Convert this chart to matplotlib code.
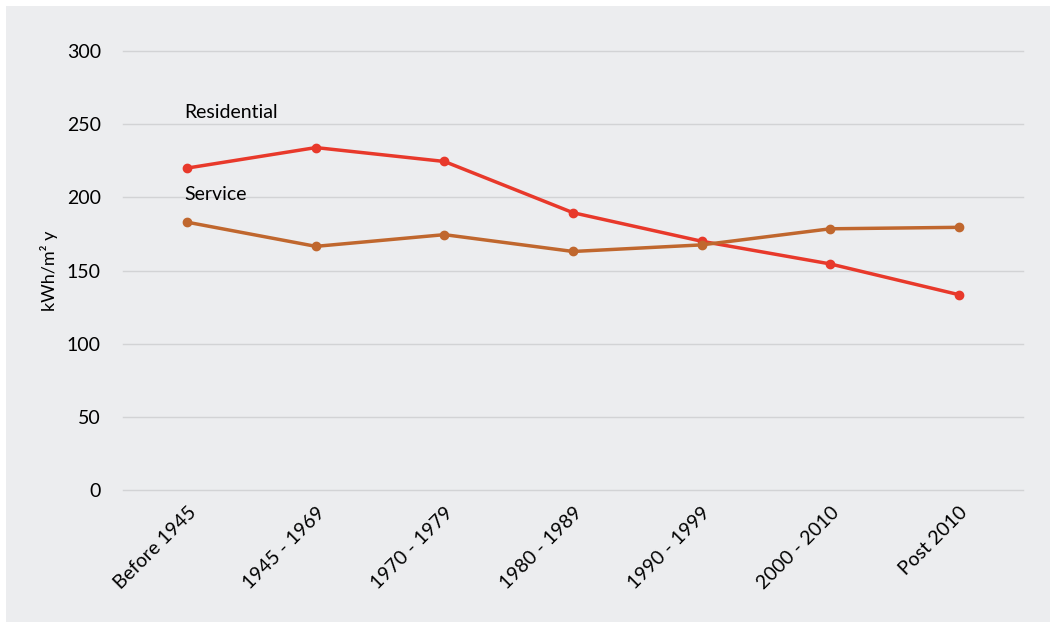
import matplotlib.pyplot as plt
from matplotlib.patches import Rectangle

periods = ['Before 1945', '1945 - 1969', '1970 - 1979', '1980 - 1989',
           '1990 - 1999', '2000 - 2010', 'Post 2010']
residential = [220, 234, 224.5, 189.5, 170, 154.5, 133.5]
service = [183, 166.5, 174.5, 163, 167.5, 178.5, 179.5]
yticks = [0, 50, 100, 150, 200, 250, 300]

plt.rcParams['font.family'] = ['Lato', 'DejaVu Sans']

fig = plt.figure(figsize=(10.58, 6.30), dpi=100)
fig.patch.set_facecolor('white')
bg = '#ECEDEF'
fig.add_artist(Rectangle((6 / 1058, 8 / 630), 1044 / 1058, 616 / 630,
                         transform=fig.transFigure, facecolor=bg,
                         edgecolor='none', zorder=-10))

ax = fig.add_axes([123 / 1058, (630 - 490) / 630, 900 / 1058, 439 / 630])
ax.set_facecolor(bg)

x = list(range(len(periods)))
ax.plot(x, residential, color='#E8392B', lw=2.5, marker='o', ms=6, zorder=3)
ax.plot(x, service, color='#C0672E', lw=2.5, marker='o', ms=6, zorder=3)

ax.text(-0.02, 258, 'Residential', fontsize=14, va='center', ha='left')
ax.text(-0.02, 202, 'Service', fontsize=14, va='center', ha='left')

ax.set_xlim(-0.5, 6.5)
ax.set_ylim(0, 300)
ax.set_yticks(yticks)
ax.yaxis.grid(True, color='#D2D3D5', lw=1)
for gl in ax.get_ygridlines():
    gl.set_clip_on(False)
ax.set_axisbelow(True)
for s in ax.spines.values():
    s.set_visible(False)
ax.tick_params(axis='y', length=0, pad=16, labelsize=14)
ax.tick_params(axis='x', length=0, pad=10, labelsize=14)
ax.set_xticks(x)
ax.set_xticklabels(periods, rotation=45, ha='right', rotation_mode='anchor')
ax.set_ylabel('kWh/m² y', fontsize=13)
ax.yaxis.set_label_coords(-0.072, 0.5)

fig.savefig('out.png', dpi=100, facecolor='white')
